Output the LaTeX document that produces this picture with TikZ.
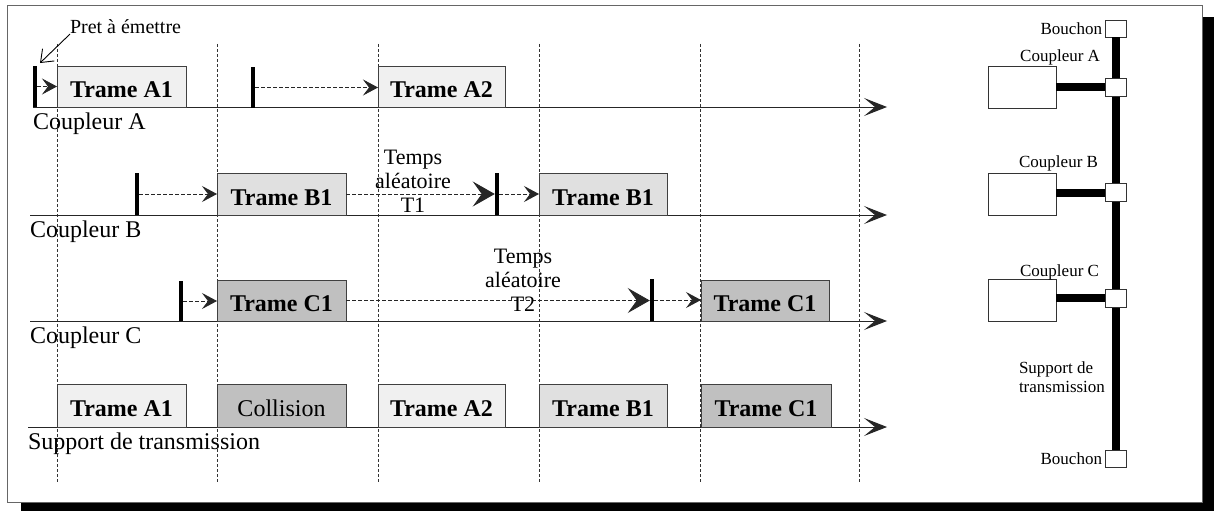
\documentclass[tikz,border=0pt]{standalone}
\usepackage{fontspec}
\setmainfont{Liberation Serif}
\usetikzlibrary{arrows.meta}

\definecolor{fillA}{HTML}{F0F0F0}
\definecolor{fillB}{HTML}{E0E0E0}
\definecolor{fillC}{HTML}{C0C0C0}

\newcommand\fntrow{\fontsize{24}{26}\selectfont}
\newcommand\fnttemps{\fontsize{22}{24}\selectfont}
\newcommand\fntpret{\fontsize{20}{22}\selectfont}
\newcommand\fntside{\fontsize{17}{19}\selectfont}

\tikzset{
  timetip/.tip={Stealth[length=23pt,width=18pt,inset=11pt]},
  smalltip/.tip={Stealth[length=15pt,width=16pt,inset=6pt]},
  bigtip/.tip={Stealth[length=22pt,width=25pt,inset=9pt]},
  grid/.style={draw=black!80, line width=0.8pt, dash pattern=on 3pt off 2pt},
  timeline/.style={draw=black!85, line width=1pt, -timetip},
  frame/.style={draw=black!75, line width=1pt, minimum width=129pt,
    minimum height=42pt, anchor=south west, text height=22pt, text depth=0pt,
    font=\fntrow\bfseries},
  readybar/.style={fill=black, minimum width=4.5pt},
  wait/.style={draw=black!85, line width=0.8pt, dash pattern=on 4pt off 2pt},
  rowlabel/.style={anchor=base west, font=\fntrow},
  pointer/.style={draw=black, line width=0.9pt, -{Straight Barb[length=11pt,width=17pt]}},
  sidelabel/.style={font=\fntside},
  plug/.style={draw=black!80, fill=white, line width=1pt, minimum width=21pt, minimum height=17pt},
  coupler/.style={draw=black!80, fill=white, line width=1pt, minimum width=68pt, minimum height=42pt},
  bus/.style={draw=black, line width=8pt},
}

\begin{document}
\begin{tikzpicture}[x=1pt,y=-1pt, every node/.style={inner sep=0pt, outer sep=0pt}]
\useasboundingbox (0,0) rectangle (1214,511);

% page frame with drop shadow
\fill[black] (21,17) rectangle (1214,511);
\draw[draw=black!60, fill=white, line width=1pt] (7,6) rectangle (1202,502);

% time grid
\foreach \x [count=\i] in {57,217,378,539,700,859} {
  \coordinate (g\i t) at (\x,44);
  \coordinate (g\i b) at (\x,483);
  \draw[grid] (g\i t) -- (g\i b);
}

% time axes
\foreach \n/\y/\s in {A/107/33, B/215/30, C/321/30, S/427/28} {
  \coordinate (t\n0) at (\s,\y);
  \coordinate (t\n1) at (887,\y);
  \draw[timeline] (t\n0) -- (t\n1);
}

% row labels
\node[rowlabel] (labA) at (33,129) {Coupleur A};
\node[rowlabel] (labB) at (30,237) {Coupleur B};
\node[rowlabel] (labC) at (30,343) {Coupleur C};
\node[rowlabel] (labS) at (28,449) {Support de transmission};

% frames of coupler A
\node[frame, fill=fillA, minimum height=41pt] (A1) at (57,107) {Trame A1};
\node[frame, fill=fillA, minimum height=41pt, minimum width=127pt] (A2) at (378,107) {Trame A2};
% frames of coupler B
\node[frame, fill=fillB] (B1) at (217,215) {Trame B1};
\node[frame, fill=fillB, minimum width=128pt] (B1r) at (539,215) {Trame B1};
% frames of coupler C
\node[frame, fill=fillC, minimum height=41pt] (C1) at (217,321) {Trame C1};
\node[frame, fill=fillC, minimum height=41pt, minimum width=128pt] (C1r) at (701,321) {Trame C1};
% what the medium carries
\node[frame, fill=fillA, minimum height=43pt] (SA1) at (57,427) {Trame A1};
\node[frame, fill=fillC, minimum height=43pt, font=\fntrow] (SX) at (217,427) {Collision};
\node[frame, fill=fillA, minimum height=43pt, minimum width=127pt] (SA2) at (378,427) {Trame A2};
\node[frame, fill=fillB, minimum height=43pt, minimum width=128pt] (SB1) at (539,427) {Trame B1};
\node[frame, fill=fillC, minimum height=43pt, minimum width=130pt] (SC1) at (701,427) {Trame C1};

% ready-to-send markers
\node[readybar, minimum height=41pt] (pA1) at (35,86.5) {};
\node[readybar, minimum height=41pt] (pA2) at (253,87.5) {};
\node[readybar, minimum height=42pt] (pB1) at (137,194) {};
\node[readybar, minimum height=42pt] (pB2) at (497,194) {};
\node[readybar, minimum height=40pt] (pC1) at (181,301) {};
\node[readybar, minimum height=42pt] (pC2) at (652,300) {};

% waiting times
\draw[wait, -smalltip] (pA1.east) -- (pA1.east -| A1.west);
\draw[wait, -smalltip] (pA2.east) -- (pA2.east -| A2.west);
\draw[wait, -smalltip] (pB1.east) -- (pB1.east -| B1.west);
\draw[wait, -bigtip] (B1.east) -- (B1.east -| pB2.west);
\draw[wait, -smalltip] (pB2.east) -- (pB2.east -| B1r.west);
\draw[wait, -smalltip] (pC1.east) -- (pC1.east -| C1.west);
\draw[wait, -bigtip] (C1.east) -- (C1.east -| pC2.west);
\draw[wait, -smalltip] (pC2.east) -- (pC2.east -| C1r.west);

\node[font=\fnttemps, align=center] (tT1) at (413,181) {Temps\\aléatoire\\T1};
\node[font=\fnttemps, align=center] (tT2) at (523,280) {Temps\\aléatoire\\T2};

% ready-to-send callout
\node[font=\fntpret, anchor=west] (pret) at (70,27) {Pret à émettre};
\coordinate (pretTip) at (40,63);
\draw[pointer] (pret.south west) -- (pretTip);

% bus topology
\node[plug] (bt) at (1115.5,29) {};
\node[plug] (bb) at (1115.5,458.5) {};
\draw[bus] (bt.south) -- (bb.north);
\node[coupler] (ra) at (1022,87) {};
\node[coupler] (rb) at (1022,194.5) {};
\node[coupler] (rc) at (1022,300) {};
\node[plug, minimum height=18pt] (ca) at (1115.5,87) {};
\node[plug, minimum height=18pt] (cb) at (1115.5,192.5) {};
\node[plug, minimum height=18pt] (cc) at (1115.5,298) {};
\draw[bus] (ra.east) -- (ca.west);
\draw[bus] (rb.east |- cb.west) -- (cb.west);
\draw[bus] (rc.east |- cc.west) -- (cc.west);

\node[sidelabel, anchor=east] (lbt) at (1102,29) {Bouchon};
\node[sidelabel, anchor=east] (lbb) at (1102,459) {Bouchon};
\node[sidelabel, anchor=east] (lca) at (1100,57) {Coupleur A};
\node[sidelabel, anchor=east] (lcb) at (1098,163) {Coupleur B};
\node[sidelabel, anchor=east] (lcc) at (1099,272) {Coupleur C};
\node[sidelabel, anchor=west, align=left] (lsup) at (1019,377) {Support de\\transmission};
\end{tikzpicture}
\end{document}
